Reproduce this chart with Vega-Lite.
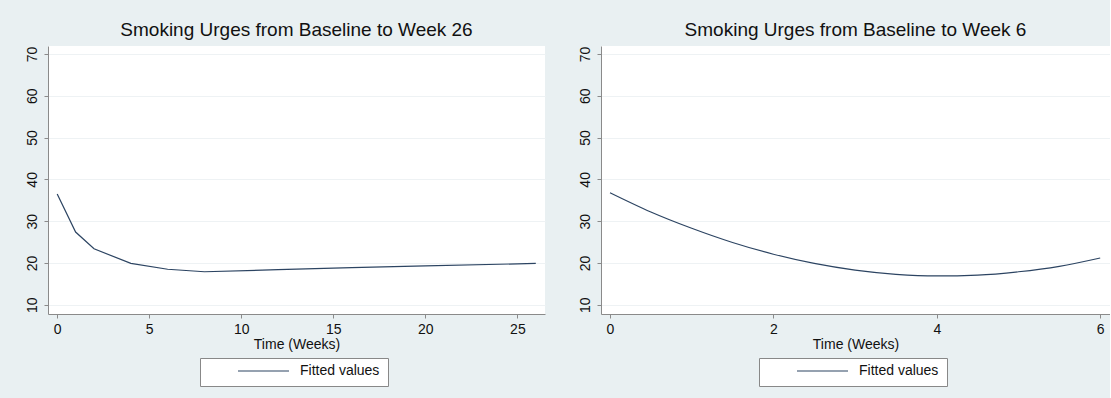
{
  "$schema": "https://vega.github.io/schema/vega-lite/v6.json",
  "background": "#e9f0f2",
  "padding": {"left": 24, "top": 21, "right": 0, "bottom": 14},
  "config": {
    "font": "Liberation Sans",
    "view": {"fill": "white", "stroke": null},
    "axis": {
      "domainColor": "#8a8a8a",
      "tickColor": "#8a8a8a",
      "tickSize": 4,
      "labelColor": "#111111",
      "labelFontSize": 14,
      "titleFontSize": 14,
      "titleFontWeight": "normal",
      "titleColor": "#111111",
      "gridColor": "#eef2f4",
      "gridWidth": 1
    },
    "axisX": {"grid": false, "labelPadding": 4, "titlePadding": 1},
    "axisY": {"grid": true, "labelAngle": -90, "labelAlign": "center", "labelBaseline": "bottom", "labelPadding": 5},
    "title": {"fontSize": 19, "fontWeight": "normal", "color": "#111111", "offset": 6, "anchor": "middle"},
    "legend": {
      "orient": "none",
      "direction": "horizontal",
      "strokeColor": "#888888",
      "fillColor": "white",
      "padding": 8,
      "clipHeight": 10,
      "labelFontSize": 14,
      "labelColor": "#111111",
      "labelOffset": 10,
      "symbolType": "stroke",
      "symbolSize": 2601,
      "symbolOffset": 29,
      "symbolStrokeWidth": 1.2
    }
  },
  "datasets": {
    "w26": [
      {"week": 0, "urge": 36.5, "series": "Fitted values"},
      {"week": 1, "urge": 27.4, "series": "Fitted values"},
      {"week": 2, "urge": 23.4, "series": "Fitted values"},
      {"week": 4, "urge": 19.9, "series": "Fitted values"},
      {"week": 6, "urge": 18.5, "series": "Fitted values"},
      {"week": 8, "urge": 17.9, "series": "Fitted values"},
      {"week": 12, "urge": 18.4, "series": "Fitted values"},
      {"week": 16, "urge": 18.9, "series": "Fitted values"},
      {"week": 20, "urge": 19.3, "series": "Fitted values"},
      {"week": 26, "urge": 19.9, "series": "Fitted values"}
    ],
    "w6": [
      {"week": 0, "urge": 36.8, "series": "Fitted values"},
      {"week": 0.5, "urge": 32.2, "series": "Fitted values"},
      {"week": 1, "urge": 28.3, "series": "Fitted values"},
      {"week": 1.5, "urge": 24.9, "series": "Fitted values"},
      {"week": 2, "urge": 22.1, "series": "Fitted values"},
      {"week": 2.5, "urge": 19.9, "series": "Fitted values"},
      {"week": 3, "urge": 18.3, "series": "Fitted values"},
      {"week": 3.5, "urge": 17.3, "series": "Fitted values"},
      {"week": 4, "urge": 16.9, "series": "Fitted values"},
      {"week": 4.5, "urge": 17.1, "series": "Fitted values"},
      {"week": 5, "urge": 17.9, "series": "Fitted values"},
      {"week": 5.5, "urge": 19.2, "series": "Fitted values"},
      {"week": 6, "urge": 21.2, "series": "Fitted values"}
    ]
  },
  "spacing": 32,
  "hconcat": [
    {
      "width": 497,
      "height": 268,
      "title": "Smoking Urges from Baseline to Week 26",
      "data": {"name": "w26"},
      "mark": {"type": "line", "strokeWidth": 1.2},
      "encoding": {
        "x": {"field": "week", "type": "quantitative", "title": "Time (Weeks)",
              "scale": {"domain": [-0.5, 26.5], "nice": false, "zero": false},
              "axis": {"values": [0, 5, 10, 15, 20, 25]}},
        "y": {"field": "urge", "type": "quantitative", "title": null,
              "scale": {"domain": [7.8, 71.9], "nice": false, "zero": false},
              "axis": {"values": [10, 20, 30, 40, 50, 60, 70]}},
        "color": {"field": "series", "type": "nominal", "title": null,
                  "scale": {"range": ["#2c4462"]},
                  "legend": {"legendX": 152, "legendY": 312}}
      }
    },
    {
      "width": 509,
      "height": 268,
      "title": "Smoking Urges from Baseline to Week 6",
      "data": {"name": "w6"},
      "mark": {"type": "line", "strokeWidth": 1.2, "interpolate": "monotone"},
      "encoding": {
        "x": {"field": "week", "type": "quantitative", "title": "Time (Weeks)",
              "scale": {"domain": [-0.11, 6.12], "nice": false, "zero": false},
              "axis": {"values": [0, 2, 4, 6]}},
        "y": {"field": "urge", "type": "quantitative", "title": null,
              "scale": {"domain": [7.8, 71.9], "nice": false, "zero": false},
              "axis": {"values": [10, 20, 30, 40, 50, 60, 70]}},
        "color": {"field": "series", "type": "nominal", "title": null,
                  "scale": {"range": ["#2c4462"]},
                  "legend": {"legendX": 158, "legendY": 312}}
      }
    }
  ],
  "resolve": {
    "scale": {"x": "independent", "y": "independent", "color": "independent"},
    "legend": {"color": "independent"}
  }
}
